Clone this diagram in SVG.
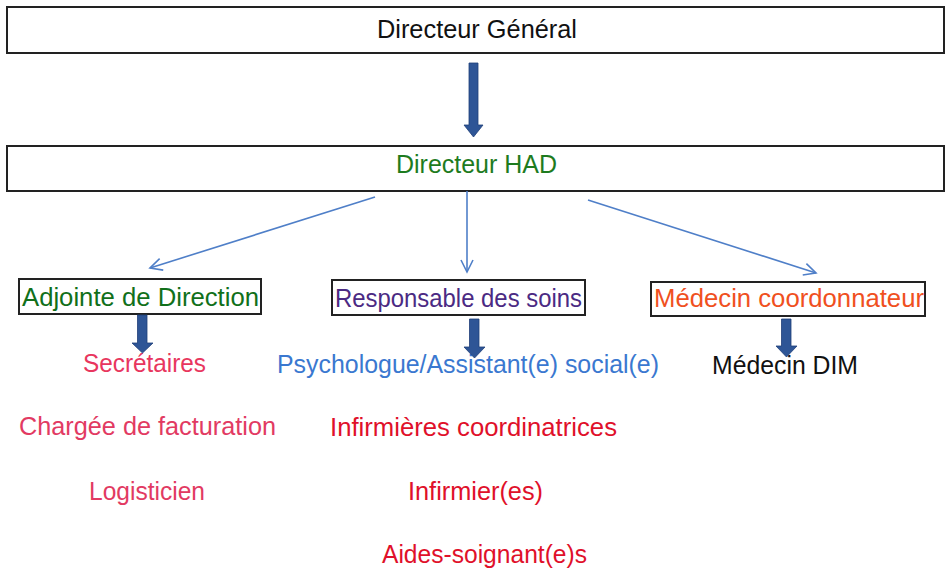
<svg xmlns="http://www.w3.org/2000/svg" width="948" height="571" viewBox="0 0 948 571">
<style>
  .box { fill: #ffffff; stroke: #222222; stroke-width: 2; }
  .t { font-family: "Liberation Sans", Arial, sans-serif; font-size: 26px; }
  .thin { stroke: #4f7fc8; stroke-width: 1.6; fill: none; }
  .thick { fill: #2e5596; stroke: #1f3f78; stroke-width: 0.8; }
</style>
<defs>
  <marker id="open" markerWidth="16" markerHeight="14" refX="13" refY="7" orient="auto" markerUnits="userSpaceOnUse">
    <path d="M1,1 L13,7 L1,13" fill="none" stroke="#4f7fc8" stroke-width="1.6"/>
  </marker>
</defs>
<rect width="948" height="571" fill="#ffffff"/>

<g id="directeur-general">
  <rect class="box" x="7" y="7" width="937" height="46"/>
  <text class="t" x="377" y="38" font-size="24" textLength="200" lengthAdjust="spacingAndGlyphs" fill="#111111">Directeur Général</text>
</g>

<g id="directeur-had">
  <rect class="box" x="7" y="146" width="937" height="45"/>
  <text class="t" x="396" y="173" font-size="24" textLength="161" lengthAdjust="spacingAndGlyphs" fill="#1e7b1e">Directeur HAD</text>
</g>

<g id="adjointe">
  <rect class="box" x="19" y="279" width="242" height="35"/>
  <text class="t" x="22" y="306" textLength="237" lengthAdjust="spacingAndGlyphs" fill="#11701a">Adjointe de Direction</text>
</g>

<g id="responsable">
  <rect class="box" x="332" y="280" width="253" height="35"/>
  <text class="t" x="335" y="307" textLength="247" lengthAdjust="spacingAndGlyphs" fill="#4b2a83">Responsable des soins</text>
</g>

<g id="medecin-coord">
  <rect class="box" x="651" y="282" width="274" height="34"/>
  <text class="t" x="654" y="307" textLength="270" lengthAdjust="spacingAndGlyphs" fill="#f0501e">Médecin coordonnateur</text>
</g>

<g id="secretaires"><text class="t" x="83" y="372" textLength="123" lengthAdjust="spacingAndGlyphs" fill="#e8365e">Secrétaires</text></g>
<g id="chargee"><text class="t" x="19" y="435" textLength="257" lengthAdjust="spacingAndGlyphs" fill="#e23a62">Chargée de facturation</text></g>
<g id="logisticien"><text class="t" x="89" y="500" textLength="116" lengthAdjust="spacingAndGlyphs" fill="#e23a62">Logisticien</text></g>

<g id="psychologue"><text class="t" x="277" y="373" textLength="382" lengthAdjust="spacingAndGlyphs" fill="#3a78d0">Psychologue/Assistant(e) social(e)</text></g>
<g id="infirmieres-coord"><text class="t" x="330" y="436" textLength="287" lengthAdjust="spacingAndGlyphs" fill="#e0102a">Infirmières coordinatrices</text></g>
<g id="infirmiers"><text class="t" x="408" y="500" textLength="135" lengthAdjust="spacingAndGlyphs" fill="#e0102a">Infirmier(es)</text></g>
<g id="aides-soignants"><text class="t" x="382" y="563" textLength="205" lengthAdjust="spacingAndGlyphs" fill="#e0102a">Aides-soignant(e)s</text></g>

<g id="medecin-dim"><text class="t" x="712" y="374" textLength="146" lengthAdjust="spacingAndGlyphs" fill="#111111">Médecin DIM</text></g>

<g id="connectors">
  <path class="thick" d="M469,63 L478,63 L478,125 L483,125 L473.5,137 L464,125 L469,125 Z"/>
  <line class="thin" x1="375" y1="197" x2="150" y2="268" marker-end="url(#open)"/>
  <line class="thin" x1="467" y1="191" x2="467" y2="272" marker-end="url(#open)"/>
  <line class="thin" x1="588" y1="200" x2="816" y2="273" marker-end="url(#open)"/>
  <path class="thick" d="M137.5,315 L147,315 L147,343 L153,343 L142.5,353 L132,343 L137.5,343 Z"/>
  <path class="thick" d="M469.5,319 L479,319 L479,347 L485,347 L474.5,358 L464,347 L469.5,347 Z"/>
  <path class="thick" d="M781.5,319 L791,319 L791,346 L797,346 L786.5,357 L776,346 L781.5,346 Z"/>
</g>
</svg>
